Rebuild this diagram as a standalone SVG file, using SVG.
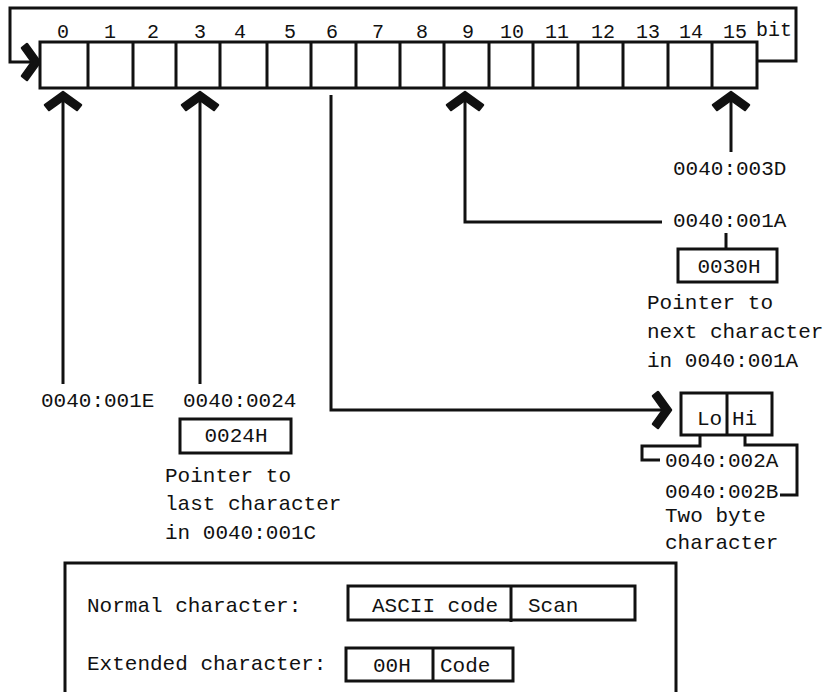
<svg xmlns="http://www.w3.org/2000/svg" xmlns:xlink="http://www.w3.org/1999/xlink" width="830" height="692" viewBox="0 0 830 692">
<style>
  text { font-family: "Liberation Mono", "Courier New", monospace; fill: #111; }
  .t { font-size: 21px; }
  .bit { font-size: 20px; text-anchor: middle; }
  .c { text-anchor: middle; }
  .ln { fill: none; stroke: #111; stroke-width: 3; stroke-linejoin: miter; }
  .bx { fill: #fff; stroke: #111; stroke-width: 3; }
  .ah { fill: #111; stroke: #111; stroke-width: 2.5; stroke-linejoin: round; }
</style>
<defs>
  <polygon id="chev" points="0,0 18,13 14,18 0,8 -14,18 -18,13"/>
</defs>
<rect width="830" height="692" fill="#fff"/>

<g id="connectors">
  <path class="ln" d="M757,61 H796 V8 H10 V62 H36"/>
  <use href="#chev" xlink:href="#chev" class="ah" transform="translate(40,62) rotate(90)"/>
  <path class="ln" d="M63,384 V95"/>
  <use href="#chev" xlink:href="#chev" class="ah" transform="translate(63,92)"/>
  <path class="ln" d="M200,384 V95"/>
  <use href="#chev" xlink:href="#chev" class="ah" transform="translate(200,92)"/>
  <path class="ln" d="M331,95 V410 H667"/>
  <use href="#chev" xlink:href="#chev" class="ah" transform="translate(671,410) rotate(90)"/>
  <path class="ln" d="M662,222 H465 V95"/>
  <use href="#chev" xlink:href="#chev" class="ah" transform="translate(465,92)"/>
  <path class="ln" d="M731,152 V95"/>
  <use href="#chev" xlink:href="#chev" class="ah" transform="translate(731,92)"/>
  <path class="ln" d="M726,233 V249"/>
  <path class="ln" d="M700,436 V446 H642 V460 H660"/>
  <path class="ln" d="M745,436 V445 H797 V495 H780"/>
</g>

<g id="register">
  <rect class="bx" x="40" y="42" width="717" height="46"/>
  <path class="ln" d="M88,42V88 M133,42V88 M176,42V88 M220,42V88 M267,42V88 M311,42V88 M356,42V88 M400,42V88 M444,42V88 M489,42V88 M533,42V88 M578,42V88 M623,42V88 M668,42V88 M712,42V88"/>
  <text class="bit" x="63" y="38">0</text>
  <text class="bit" x="110" y="38">1</text>
  <text class="bit" x="153" y="38">2</text>
  <text class="bit" x="200" y="38">3</text>
  <text class="bit" x="240" y="38">4</text>
  <text class="bit" x="290" y="38">5</text>
  <text class="bit" x="332" y="38">6</text>
  <text class="bit" x="378" y="38">7</text>
  <text class="bit" x="422" y="38">8</text>
  <text class="bit" x="468" y="38">9</text>
  <text class="bit" x="512" y="38">10</text>
  <text class="bit" x="557" y="38">11</text>
  <text class="bit" x="603" y="38">12</text>
  <text class="bit" x="648" y="38">13</text>
  <text class="bit" x="691" y="38">14</text>
  <text class="bit" x="735" y="38">15</text>
  <text class="bit" x="774" y="36">bit</text>
</g>

<g id="addr-003D">
  <text class="t" x="673" y="175">0040:003D</text>
</g>

<g id="addr-001A">
  <text class="t" x="673" y="227">0040:001A</text>
  <rect class="bx" x="678" y="249" width="99" height="33"/>
  <text class="t c" x="729" y="273">0030H</text>
  <text class="t" x="647" y="309">Pointer to</text>
  <text class="t" x="647" y="338">next character</text>
  <text class="t" x="647" y="367">in 0040:001A</text>
</g>

<g id="addr-001E">
  <text class="t" x="41" y="407">0040:001E</text>
</g>

<g id="addr-0024">
  <text class="t" x="183" y="407">0040:0024</text>
  <rect class="bx" x="180" y="419" width="111" height="34"/>
  <text class="t c" x="236" y="442">0024H</text>
  <text class="t" x="165" y="482">Pointer to</text>
  <text class="t" x="165" y="510">last character</text>
  <text class="t" x="165" y="539">in 0040:001C</text>
</g>

<g id="two-byte">
  <rect class="bx" x="681" y="393" width="91" height="42"/>
  <path class="ln" d="M727,393 V435"/>
  <text class="t" x="697" y="425">Lo</text>
  <text class="t" x="732" y="425">Hi</text>
  <text class="t" x="665" y="467">0040:002A</text>
  <text class="t" x="665" y="498">0040:002B</text>
  <text class="t" x="665" y="522">Two byte</text>
  <text class="t" x="665" y="549">character</text>
</g>

<g id="legend">
  <path class="ln" d="M65,700 V563 H676 V700"/>
  <text class="t" x="87" y="612">Normal character:</text>
  <rect class="bx" x="348" y="586" width="287" height="34"/>
  <path class="ln" d="M511,586 V622"/>
  <text class="t" x="372" y="612">ASCII code</text>
  <text class="t" x="528" y="612">Scan</text>
  <text class="t" x="87" y="670">Extended character:</text>
  <rect class="bx" x="346" y="648" width="167" height="33"/>
  <path class="ln" d="M433,648 V681"/>
  <text class="t" x="373" y="672">00H</text>
  <text class="t" x="440" y="672">Code</text>
</g>
</svg>
